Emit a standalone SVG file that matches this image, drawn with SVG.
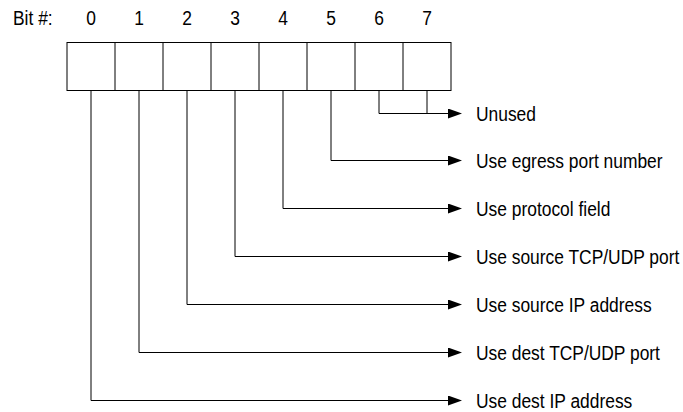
<svg xmlns="http://www.w3.org/2000/svg" width="683" height="412" viewBox="0 0 683 412">
  <style>
    text { font-family: "Liberation Sans", Arial, sans-serif; font-size: 20px; fill: #000; }
    .ln { fill: none; stroke: #000; stroke-width: 1; }
  </style>
  <defs>
    <marker id="arrow" viewBox="0 0 14 10" refX="0" refY="5" markerWidth="14" markerHeight="10" markerUnits="userSpaceOnUse" orient="auto">
      <path d="M0,0 L14,5 L0,10 Z" fill="#000"/>
    </marker>
  </defs>
  <rect width="683" height="412" fill="#fff"/>

  <!-- bit number header -->
  <g id="header">
    <text transform="translate(13,25) scale(0.87,1)">Bit #:</text>
    <g text-anchor="middle">
      <text transform="translate(91,25) scale(0.87,1)">0</text>
      <text transform="translate(139,25) scale(0.87,1)">1</text>
      <text transform="translate(187,25) scale(0.87,1)">2</text>
      <text transform="translate(235,25) scale(0.87,1)">3</text>
      <text transform="translate(283,25) scale(0.87,1)">4</text>
      <text transform="translate(331,25) scale(0.87,1)">5</text>
      <text transform="translate(379,25) scale(0.87,1)">6</text>
      <text transform="translate(427,25) scale(0.87,1)">7</text>
    </g>
  </g>

  <!-- the 8-bit register -->
  <g id="register">
    <rect class="ln" x="67" y="42.5" width="384" height="48"/>
    <path class="ln" d="M115,42.5V90.5 M163,42.5V90.5 M211,42.5V90.5 M259,42.5V90.5 M307,42.5V90.5 M355,42.5V90.5 M403,42.5V90.5"/>
  </g>

  <!-- connectors from each bit to its meaning -->
  <g id="connectors" class="ln">
    <path d="M379,90.5V113.5H448" marker-end="url(#arrow)"/>
    <path d="M427,90.5V113.5"/>
    <path d="M331,90.5V160.5H448" marker-end="url(#arrow)"/>
    <path d="M283,90.5V208.5H448" marker-end="url(#arrow)"/>
    <path d="M235,90.5V256.5H448" marker-end="url(#arrow)"/>
    <path d="M187,90.5V304.5H448" marker-end="url(#arrow)"/>
    <path d="M139,90.5V352.5H448" marker-end="url(#arrow)"/>
    <path d="M91,90.5V400.5H448" marker-end="url(#arrow)"/>
  </g>

  <!-- bit meanings -->
  <g id="label-unused"><text transform="translate(476,120.5) scale(0.87,1)">Unused</text></g>
  <g id="label-bit5"><text transform="translate(476,167.5) scale(0.87,1)">Use egress port number</text></g>
  <g id="label-bit4"><text transform="translate(476,215.5) scale(0.87,1)">Use protocol field</text></g>
  <g id="label-bit3"><text transform="translate(476,263.5) scale(0.87,1)">Use source TCP/UDP port</text></g>
  <g id="label-bit2"><text transform="translate(476,311.5) scale(0.87,1)">Use source IP address</text></g>
  <g id="label-bit1"><text transform="translate(476,359.5) scale(0.87,1)">Use dest TCP/UDP port</text></g>
  <g id="label-bit0"><text transform="translate(476,407.5) scale(0.87,1)">Use dest IP address</text></g>
</svg>
